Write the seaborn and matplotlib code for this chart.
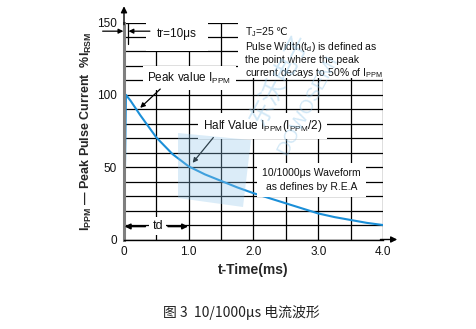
import matplotlib
matplotlib.use("Agg")
import matplotlib.pyplot as plt
import seaborn as sns
import pandas as pd
from matplotlib.patches import Polygon, Rectangle
from matplotlib.transforms import IdentityTransform

# ---- data ----
time_ms = [0.0, 0.03, 0.1, 0.25, 0.5, 0.75, 1.0, 1.25, 1.5, 1.75, 2.0,
           2.25, 2.5, 2.75, 3.0, 3.25, 3.5, 3.75, 4.0]
current_pct = [0, 100, 96, 86, 70.5, 59, 50.5, 45, 40.5, 36, 32,
               28.5, 25, 21.5, 18, 15.5, 13.5, 11.5, 10]
x_ticks = [0, 1, 2, 3, 4]
x_tick_labels = ["0", "1.0", "2.0", "3.0", "4.0"]
y_ticks = [0, 50, 100, 150]
y_tick_labels = ["0", "50", "100", "150"]

sns.set_style("white")
plt.rcParams["font.family"] = ["Liberation Sans", "DejaVu Sans"]
plt.rcParams["mathtext.fontset"] = "custom"
plt.rcParams["mathtext.rm"] = "Liberation Sans"
plt.rcParams["mathtext.bf"] = "Liberation Sans:bold"
plt.rcParams["mathtext.it"] = "Liberation Sans:italic"

W, H = 477, 329
fig = plt.figure(figsize=(W / 100, H / 100), dpi=100)
ax = fig.add_axes([124 / W, (H - 239.5) / H, 259 / W, 217 / H])

df = pd.DataFrame({"t": time_ms, "i": current_pct})
sns.lineplot(data=df, x="t", y="i", ax=ax, color="#1b8fd8", lw=1.5, zorder=2)

ax.set_xlim(0, 4)
ax.set_ylim(0, 150)
ax.set_xticks(x_ticks)
ax.set_xticklabels(x_tick_labels)
ax.set_yticks(y_ticks)
ax.set_yticklabels(y_tick_labels)
ax.set_xticks([i * 0.5 for i in range(9)], minor=True)
ax.set_yticks(list(range(0, 151, 10)), minor=True)
ax.grid(which="both", color="black", lw=0.9, zorder=1)
ax.set_axisbelow(True)
ax.tick_params(which="both", length=0, labelsize=8.5, colors="#111111")
ax.tick_params(axis="y", pad=5)
ax.tick_params(axis="x", pad=5)

for s in ["top", "right"]:
    ax.spines[s].set_visible(False)
ax.spines["left"].set_color("#7f7f7f")
ax.spines["left"].set_linewidth(2.2)
ax.spines["bottom"].set_color("black")
ax.spines["bottom"].set_linewidth(1.0)

# axis arrows
ax.annotate("", xy=(1.055, 0), xytext=(0.99, 0), xycoords="axes fraction",
            arrowprops=dict(arrowstyle="-|>", color="black", lw=1.0,
                            mutation_scale=9, shrinkA=0, shrinkB=0))
ax.annotate("", xy=(0, 1.075), xytext=(0, 0.99), xycoords="axes fraction",
            arrowprops=dict(arrowstyle="-|>", color="black", lw=1.0,
                            mutation_scale=9, shrinkA=0, shrinkB=0))

ax.set_xlabel("t-Time(ms)", fontsize=10, fontweight="bold", labelpad=3)
ax.set_ylabel(r"$\mathbf{I_{PPM}}$ — Peak Pulse Current  %$\mathbf{I_{RSM}}$",
              fontsize=9, fontweight="bold", labelpad=2)

tc = "#111111"
arrow_kw = dict(arrowstyle="-|>", color="black", lw=0.9,
                mutation_scale=7, shrinkA=0, shrinkB=0)

# tr annotation
ax.text(0.51, 142, "tr=10μs", fontsize=8.5, color=tc, ha="left", va="center",
        zorder=4, bbox=dict(boxstyle="square,pad=0.9", fc="white", ec="none"))
ax.annotate("", xy=(-0.01, 144), xytext=(-0.33, 144), annotation_clip=False,
            arrowprops=arrow_kw, zorder=5)
ax.annotate("", xy=(0.07, 144), xytext=(0.40, 144), annotation_clip=False,
            arrowprops=arrow_kw, zorder=5)
ax.plot([0.065, 0.065], [135, 149.5], color="black", lw=0.9, zorder=5)

# peak value
ax.text(0.36, 111.5, r"Peak value I$_{\rm PPM}$", fontsize=8.5, color=tc,
        ha="left", va="center", zorder=4,
        bbox=dict(boxstyle="square,pad=0.4", fc="white", ec="none"))
ax.annotate("", xy=(0.25, 91), xytext=(0.56, 104), arrowprops=arrow_kw, zorder=5)

# half value
ax.text(1.22, 78.5, r"Half Value I$_{\rm PPM}$(I$_{\rm PPM}$/2)", fontsize=8.5,
        color=tc, ha="left", va="center", zorder=4,
        bbox=dict(boxstyle="square,pad=0.4", fc="white", ec="none"))
ax.annotate("", xy=(1.06, 53), xytext=(1.38, 70.5), arrowprops=arrow_kw, zorder=5)

# waveform note
ax.text(2.9, 41, "10/1000μs Waveform\nas defines by R.E.A", fontsize=7.5,
        color=tc, ha="center", va="center", linespacing=1.45, zorder=4,
        bbox=dict(boxstyle="square,pad=0.5", fc="white", ec="none"))

# Tj box (white mask + text)
ax.add_patch(Rectangle((0.44, 0.744), 0.575, 0.27, transform=ax.transAxes,
                       fc="white", ec="none", zorder=3, clip_on=False))
tj = ax.text(1.875, 143.3, r"T$_{\rm J}$=25", fontsize=7.5, color=tc,
             ha="left", va="center", zorder=4)
ax.annotate("℃", xy=(1.0, 0.55), xycoords=tj, xytext=(0.2, 0),
            textcoords="offset points", fontsize=7.5, color=tc,
            ha="left", va="center", family=["DejaVu Sans"], zorder=4)
ax.text(1.875, 124.3,
        "Pulse Width(t$_{\\rm d}$) is defined as\n"
        "the point where the peak\ncurrent decays to 50% of I$_{\\rm PPM}$",
        fontsize=7.5, color=tc, ha="left", va="center", linespacing=1.1,
        zorder=4)

# td annotation
ax.text(0.52, 9.3, "td", fontsize=9, color=tc, ha="center", va="center",
        zorder=4, bbox=dict(boxstyle="square,pad=0.25", fc="white", ec="none"))
td_kw = dict(arrowstyle="-|>", color="black", lw=1.2, mutation_scale=8,
             shrinkA=0, shrinkB=0)
ax.annotate("", xy=(0.01, 9.0), xytext=(0.33, 9.0), arrowprops=td_kw, zorder=5)
ax.annotate("", xy=(0.99, 9.0), xytext=(0.68, 9.0), arrowprops=td_kw, zorder=5)

# watermark (light blue logo + text)
pts = [(178, H - 133), (251, H - 140), (243, H - 207), (178, H - 198)]
fig.patches.append(Polygon(pts, closed=True, transform=IdentityTransform(),
                           fc="#8fc6ea", ec="none", alpha=0.32, zorder=6))
fig.text(280 / W, 1 - 80 / H, "东沃电子", fontsize=18, rotation=62,
         color="#8fc6ea", alpha=0.4, ha="center", va="center",
         family=["Noto Sans CJK SC", "DejaVu Sans"], zorder=6)
fig.text(308 / W, 1 - 105 / H, "DOWOSEMI", fontsize=14, rotation=62,
         color="#8fc6ea", alpha=0.4, ha="center", va="center", zorder=6)

# caption
fig.text(0.506, 1 - 313 / H, "图 3  10/1000μs 电流波形", fontsize=10,
         color="#222222", ha="center", va="center",
         family=["Noto Sans CJK SC", "DejaVu Sans"])

fig.savefig("out.png", dpi=100, facecolor="white")
